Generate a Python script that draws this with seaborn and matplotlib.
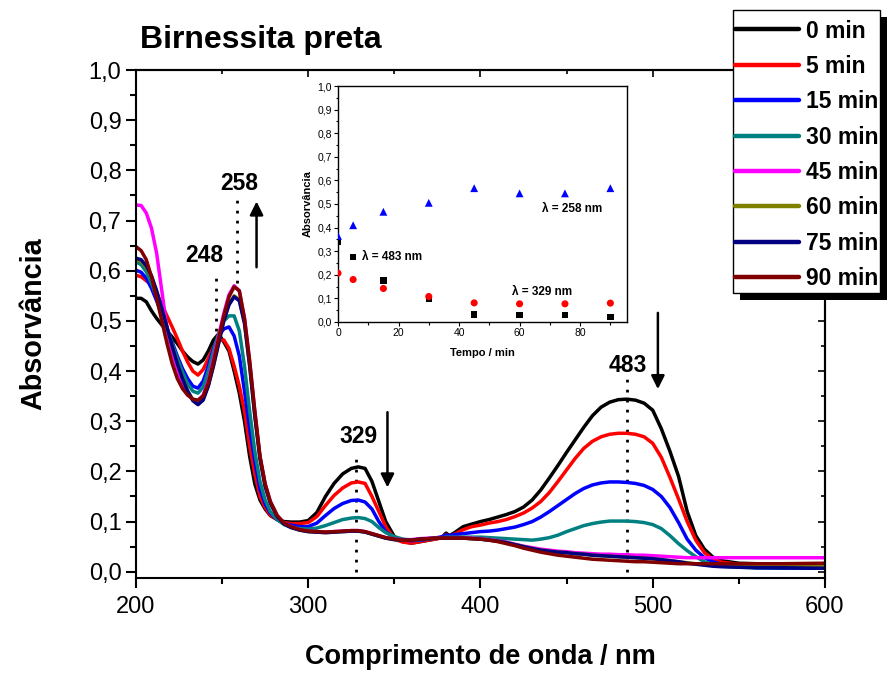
import numpy as np
import pandas as pd
import matplotlib
matplotlib.use("Agg")
import matplotlib.pyplot as plt
import seaborn as sns
from matplotlib.ticker import MultipleLocator, FuncFormatter
from matplotlib.patches import Rectangle

# ---------------- data ----------------
wavelength = [200, 203, 206, 209, 212, 215, 218, 221, 224, 227, 230, 233, 236, 239, 242, 245, 248, 251, 254, 257,
              260, 263, 266, 269, 272, 275, 278, 282, 286, 290, 295, 300, 305, 310, 315, 320, 325, 329, 333, 337,
              341, 345, 350, 355, 360, 365, 370, 375, 378, 380, 382, 385, 390, 395,
              400, 405, 410, 415, 420, 425, 430, 435, 440, 445, 450, 455, 460, 465, 470, 475, 480, 485, 490, 495,
              500, 505, 510, 515, 520, 525, 530, 535, 540, 550, 560, 575, 600]

abs_0 = [0.545, 0.545, 0.538, 0.520, 0.505, 0.492, 0.480, 0.468, 0.455, 0.440, 0.428, 0.419, 0.414, 0.422, 0.440,
         0.462, 0.474, 0.458, 0.440, 0.400, 0.356, 0.300, 0.230, 0.175, 0.143, 0.125, 0.112, 0.104, 0.100, 0.099,
         0.099, 0.102, 0.118, 0.150, 0.176, 0.195, 0.206, 0.209, 0.206, 0.180, 0.140, 0.100, 0.070, 0.060, 0.057,
         0.060, 0.063, 0.066, 0.070, 0.077, 0.072, 0.078, 0.090, 0.095,
         0.100, 0.104, 0.109, 0.114, 0.120, 0.129, 0.143, 0.163, 0.187, 0.212, 0.238, 0.263, 0.288, 0.311, 0.328,
         0.338, 0.343, 0.344, 0.342, 0.336, 0.322, 0.285, 0.240, 0.190, 0.120, 0.072, 0.045, 0.029, 0.022,
         0.017, 0.016, 0.015, 0.015]
abs_5 = [0.591, 0.588, 0.580, 0.572, 0.555, 0.533, 0.510, 0.488, 0.465, 0.440, 0.418, 0.400, 0.392, 0.403, 0.425,
         0.448, 0.461, 0.462, 0.445, 0.410, 0.370, 0.320, 0.250, 0.195, 0.150, 0.128, 0.113, 0.104, 0.098, 0.096,
         0.096, 0.098, 0.110, 0.132, 0.152, 0.167, 0.177, 0.179, 0.176, 0.150, 0.120, 0.090, 0.065, 0.059, 0.057,
         0.060, 0.063, 0.066, 0.068, 0.074, 0.070, 0.075, 0.084, 0.090,
         0.093, 0.097, 0.100, 0.104, 0.110, 0.117, 0.127, 0.140, 0.158, 0.180, 0.203, 0.226, 0.246, 0.260, 0.269,
         0.274, 0.276, 0.276, 0.274, 0.269, 0.256, 0.228, 0.188, 0.145, 0.100, 0.063, 0.038, 0.025, 0.019,
         0.015, 0.013, 0.013, 0.013]
abs_15 = [0.601, 0.597, 0.585, 0.565, 0.540, 0.512, 0.485, 0.458, 0.430, 0.405, 0.385, 0.370, 0.366, 0.380, 0.410,
          0.445, 0.470, 0.484, 0.488, 0.470, 0.430, 0.360, 0.285, 0.220, 0.165, 0.135, 0.117, 0.104, 0.096, 0.093,
          0.090, 0.090, 0.097, 0.112, 0.126, 0.136, 0.142, 0.143, 0.139, 0.125, 0.100, 0.080, 0.068, 0.063, 0.062,
          0.063, 0.065, 0.068, 0.070, 0.073, 0.072, 0.074, 0.076, 0.078,
          0.080, 0.081, 0.083, 0.086, 0.089, 0.094, 0.100, 0.109, 0.120, 0.132, 0.144, 0.156, 0.166, 0.173, 0.177,
          0.179, 0.179, 0.178, 0.176, 0.172, 0.164, 0.150, 0.128, 0.098, 0.065, 0.043, 0.028, 0.020, 0.015,
          0.011, 0.008, 0.007, 0.007]
abs_30 = [0.618, 0.612, 0.598, 0.575, 0.548, 0.517, 0.485, 0.455, 0.425, 0.398, 0.375, 0.360, 0.356, 0.368, 0.400,
          0.440, 0.475, 0.500, 0.510, 0.510, 0.480, 0.410, 0.320, 0.240, 0.180, 0.143, 0.120, 0.104, 0.094, 0.089,
          0.086, 0.085, 0.087, 0.092, 0.098, 0.104, 0.107, 0.108, 0.106, 0.100, 0.088, 0.078, 0.070, 0.065, 0.063,
          0.064, 0.066, 0.067, 0.068, 0.069, 0.069, 0.069, 0.069, 0.069,
          0.069, 0.068, 0.067, 0.066, 0.065, 0.064, 0.063, 0.065, 0.068, 0.073, 0.080, 0.086, 0.092, 0.096, 0.099,
          0.101, 0.101, 0.101, 0.100, 0.098, 0.094, 0.086, 0.072, 0.056, 0.042, 0.030, 0.020, 0.014, 0.011,
          0.009, 0.008, 0.008, 0.009]
abs_45 = [0.731, 0.730, 0.715, 0.685, 0.635, 0.560, 0.485, 0.430, 0.395, 0.372, 0.355, 0.343, 0.341, 0.352, 0.380,
          0.425, 0.470, 0.515, 0.552, 0.570, 0.560, 0.505, 0.420, 0.320, 0.230, 0.175, 0.140, 0.112, 0.097, 0.090,
          0.084, 0.081, 0.080, 0.079, 0.080, 0.081, 0.082, 0.082, 0.080, 0.076, 0.072, 0.068, 0.065, 0.064, 0.064,
          0.066, 0.067, 0.068, 0.068, 0.068, 0.068, 0.068, 0.068, 0.067,
          0.066, 0.064, 0.062, 0.059, 0.055, 0.051, 0.048, 0.045, 0.043, 0.041, 0.040, 0.038, 0.037, 0.036, 0.035,
          0.035, 0.034, 0.034, 0.033, 0.033, 0.032, 0.031, 0.030, 0.029, 0.028, 0.028, 0.028, 0.028, 0.028,
          0.028, 0.028, 0.028, 0.028]
abs_60 = [0.622, 0.619, 0.607, 0.588, 0.558, 0.523, 0.487, 0.450, 0.415, 0.386, 0.361, 0.343, 0.335, 0.344, 0.372,
          0.412, 0.457, 0.502, 0.534, 0.550, 0.542, 0.497, 0.412, 0.312, 0.227, 0.171, 0.138, 0.111, 0.096, 0.089,
          0.083, 0.080, 0.079, 0.078, 0.079, 0.080, 0.081, 0.081, 0.079, 0.075, 0.071, 0.067, 0.064, 0.063, 0.063,
          0.065, 0.066, 0.067, 0.067, 0.067, 0.067, 0.067, 0.067, 0.066,
          0.065, 0.063, 0.061, 0.058, 0.054, 0.050, 0.046, 0.043, 0.041, 0.039, 0.038, 0.036, 0.035, 0.033, 0.032,
          0.031, 0.030, 0.029, 0.028, 0.027, 0.026, 0.024, 0.022, 0.020, 0.018, 0.016, 0.014, 0.013, 0.012,
          0.011, 0.010, 0.010, 0.010]
abs_75 = [0.625, 0.622, 0.610, 0.590, 0.560, 0.525, 0.488, 0.450, 0.415, 0.385, 0.360, 0.341, 0.333, 0.342, 0.370,
          0.410, 0.455, 0.500, 0.532, 0.548, 0.540, 0.495, 0.410, 0.310, 0.225, 0.170, 0.137, 0.110, 0.095, 0.088,
          0.083, 0.080, 0.079, 0.078, 0.079, 0.080, 0.081, 0.081, 0.079, 0.075, 0.071, 0.067, 0.064, 0.063, 0.063,
          0.065, 0.066, 0.067, 0.067, 0.067, 0.067, 0.067, 0.067, 0.066,
          0.065, 0.063, 0.061, 0.058, 0.054, 0.050, 0.046, 0.043, 0.041, 0.039, 0.038, 0.036, 0.035, 0.033, 0.032,
          0.031, 0.030, 0.029, 0.028, 0.027, 0.026, 0.024, 0.022, 0.020, 0.017, 0.015, 0.013, 0.011, 0.010,
          0.009, 0.008, 0.008, 0.007]
abs_90 = [0.648, 0.640, 0.622, 0.588, 0.545, 0.500, 0.455, 0.415, 0.385, 0.365, 0.352, 0.344, 0.342, 0.350, 0.376,
          0.418, 0.465, 0.510, 0.548, 0.568, 0.560, 0.505, 0.420, 0.320, 0.230, 0.175, 0.140, 0.112, 0.097, 0.090,
          0.084, 0.081, 0.080, 0.079, 0.080, 0.081, 0.082, 0.082, 0.080, 0.076, 0.072, 0.068, 0.065, 0.063, 0.063,
          0.065, 0.066, 0.067, 0.067, 0.067, 0.067, 0.067, 0.067, 0.066,
          0.065, 0.063, 0.060, 0.056, 0.052, 0.047, 0.043, 0.039, 0.036, 0.033, 0.031, 0.029, 0.027, 0.025, 0.024,
          0.023, 0.022, 0.021, 0.020, 0.020, 0.019, 0.018, 0.017, 0.016, 0.016, 0.016, 0.016, 0.016, 0.016,
          0.016, 0.016, 0.016, 0.017]

time_labels = ["0 min", "5 min", "15 min", "30 min", "45 min", "60 min", "75 min", "90 min"]
line_colors = ["#000000", "#ff0000", "#0000ff", "#008080", "#ff00ff", "#808000", "#000080", "#800000"]
spectra = [abs_0, abs_5, abs_15, abs_30, abs_45, abs_60, abs_75, abs_90]

# inset (absorbance vs time)
inset_time = [0, 5, 15, 30, 45, 60, 75, 90]
inset_258 = [0.365, 0.410, 0.467, 0.505, 0.567, 0.545, 0.545, 0.567]
inset_329 = [0.207, 0.180, 0.142, 0.108, 0.081, 0.077, 0.077, 0.080]
inset_483 = [0.340, 0.275, 0.175, 0.097, 0.032, 0.029, 0.029, 0.021]

peak_labels = ["248", "258", "329", "483"]
peak_positions = [246.5, 258.4, 328.0, 484.9]

# ---------------- style ----------------
sns.set_theme(style="ticks")
plt.rcParams["font.family"] = ["Liberation Sans", "DejaVu Sans"]
plt.rcParams.update({"text.color": "black", "axes.labelcolor": "black", "xtick.color": "black",
                     "ytick.color": "black", "axes.edgecolor": "black", "axes.linewidth": 1.5})

W, H = 891, 674
fig = plt.figure(figsize=(W / 100, H / 100), dpi=100)
fig.patch.set_facecolor("white")
ax = fig.add_axes([0.1526, 0.1424, 0.7733, 0.7537])

df = pd.concat([pd.DataFrame({"wl": wavelength, "A": vals, "time": lab})
                for vals, lab in zip(spectra, time_labels)], ignore_index=True)
sns.lineplot(data=df, x="wl", y="A", hue="time", hue_order=time_labels,
             palette=dict(zip(time_labels, line_colors)), sort=False, estimator=None,
             lw=2.5, legend=False, ax=ax)

ax.set_xlim(200, 600)
ax.set_ylim(-0.0125, 1.0)
comma = FuncFormatter(lambda v, p: f"{v:.1f}".replace(".", ","))
ax.yaxis.set_major_locator(MultipleLocator(0.1))
ax.yaxis.set_minor_locator(MultipleLocator(0.05))
ax.yaxis.set_major_formatter(comma)
ax.xaxis.set_major_locator(MultipleLocator(100))
ax.xaxis.set_minor_locator(MultipleLocator(50))
ax.tick_params(which="major", direction="out", length=7, width=1.5, labelsize=17, colors="black")
ax.tick_params(which="minor", direction="out", length=4.5, width=1.5)
ax.tick_params(axis="x", pad=6)
for s in ax.spines.values():
    s.set_visible(True)
    s.set_color("black")
    s.set_linewidth(1.5)
ax.set_xlabel("Comprimento de onda / nm", fontsize=19.5, fontweight="bold", labelpad=19, color="black")
ax.set_ylabel("Absorvância", fontsize=20.7, fontweight="bold", labelpad=30, color="black")

secx = ax.secondary_xaxis("top")
secx.xaxis.set_major_locator(MultipleLocator(100))
secx.xaxis.set_minor_locator(MultipleLocator(50))
secx.tick_params(which="both", direction="in", labeltop=False, width=1.2)
secx.tick_params(which="major", length=5)
secx.tick_params(which="minor", length=3)
secy = ax.secondary_yaxis("right")
secy.yaxis.set_major_locator(MultipleLocator(0.1))
secy.yaxis.set_minor_locator(MultipleLocator(0.05))
secy.tick_params(which="both", direction="in", labelright=False, width=1.2)
secy.tick_params(which="major", length=5)
secy.tick_params(which="minor", length=3)

# dotted guide lines and peak labels
dot = (0, (1, 2.6))
ax.vlines(peak_positions[0], 0.44, 0.60, colors="black", linestyles=[dot], lw=2, zorder=1)
ax.vlines(peak_positions[1], 0.575, 0.75, colors="black", linestyles=[dot], lw=2, zorder=1)
ax.vlines(peak_positions[2], 0.0, 0.23, colors="black", linestyles=[dot], lw=2, zorder=1)
ax.vlines(peak_positions[3], 0.0, 0.385, colors="black", linestyles=[dot], lw=2, zorder=1)
label_xy = [(239.5, 0.631), (259.8, 0.774), (329.0, 0.269), (485.6, 0.412)]
for lab, (lx, ly) in zip(peak_labels, label_xy):
    ax.text(lx, ly, lab, fontsize=16.5, fontweight="bold", ha="center", va="center", color="black")

arrow_kw = dict(arrowstyle="-|>", lw=1.8, color="black", mutation_scale=20, shrinkA=0, shrinkB=0)
ax.annotate("", xy=(270, 0.738), xytext=(270, 0.607), arrowprops=arrow_kw)
ax.annotate("", xy=(346, 0.168), xytext=(346, 0.318), arrowprops=arrow_kw)
ax.annotate("", xy=(503, 0.364), xytext=(503, 0.516), arrowprops=arrow_kw)

fig.text(140 / W, 1 - 40 / H, "Birnessita preta", fontsize=23, fontweight="bold",
         ha="left", va="center", color="black")

# legend: white box with a hard black drop shadow, entries inside
box_l, box_t, box_r, box_b = 733, 10, 880, 293
fig.add_artist(Rectangle(((box_l + 7) / W, 1 - (box_b + 7) / H), (box_r - box_l) / W, (box_b - box_t) / H,
                         transform=fig.transFigure, facecolor="black", edgecolor="none", zorder=4.5))
fig.add_artist(Rectangle((box_l / W, 1 - box_b / H), (box_r - box_l) / W, (box_b - box_t) / H,
                         transform=fig.transFigure, facecolor="white", edgecolor="black", lw=1.0, zorder=4.6))
handles = ax.get_lines()[:len(time_labels)]
leg = fig.legend(handles, time_labels, loc="upper left", bbox_to_anchor=(735 / W, 1 - 19.5 / H),
                 bbox_transform=fig.transFigure, borderaxespad=0, frameon=False,
                 prop={"weight": "bold", "size": 16.5},
                 handlelength=2.8, handletextpad=0.28, labelspacing=0.54, borderpad=0.0)
for t in leg.get_texts():
    t.set_color("black")
for h in leg.get_lines():
    h.set_linewidth(3.2)
leg.set_zorder(6)

# ---------------- inset ----------------
axin = fig.add_axes([338 / W, 1 - 322 / H, (627 - 338) / W, (322 - 86) / H])
axin.set_facecolor("white")
sns.scatterplot(x=inset_time, y=inset_483, marker="s", color="black", s=22, edgecolor="none", ax=axin, zorder=3)
sns.scatterplot(x=inset_time, y=inset_329, marker="o", color="#ff0000", s=26, edgecolor="none", ax=axin, zorder=4)
sns.scatterplot(x=inset_time, y=inset_258, marker="^", color="#0000ff", s=32, edgecolor="none", ax=axin, zorder=5)
axin.set_xlim(0, 95.5)
axin.set_ylim(0, 1.0)
axin.yaxis.set_major_locator(MultipleLocator(0.1))
axin.yaxis.set_minor_locator(MultipleLocator(0.05))
axin.yaxis.set_major_formatter(comma)
axin.xaxis.set_major_locator(MultipleLocator(20))
axin.xaxis.set_minor_locator(MultipleLocator(10))
axin.tick_params(which="major", direction="out", length=3, width=0.8, labelsize=7.5, pad=1.5, colors="black")
axin.tick_params(which="minor", direction="out", length=1.8, width=0.8)
for s in axin.spines.values():
    s.set_visible(True)
    s.set_color("black")
    s.set_linewidth(1.0)
axin.set_xlabel("Tempo / min", fontsize=8, fontweight="bold", labelpad=7, color="black")
axin.set_ylabel("Absorvância", fontsize=8, fontweight="bold", labelpad=3, color="black")
axin.text(67.3, 0.48, "λ = 258 nm", fontsize=8.5, fontweight="bold", ha="left", va="center", color="black")
axin.text(8.0, 0.275, "λ = 483 nm", fontsize=8.5, fontweight="bold", ha="left", va="center", color="black")
axin.text(57.4, 0.125, "λ = 329 nm", fontsize=8.5, fontweight="bold", ha="left", va="center", color="black")

fig.savefig("out.png", dpi=100, facecolor="white")
